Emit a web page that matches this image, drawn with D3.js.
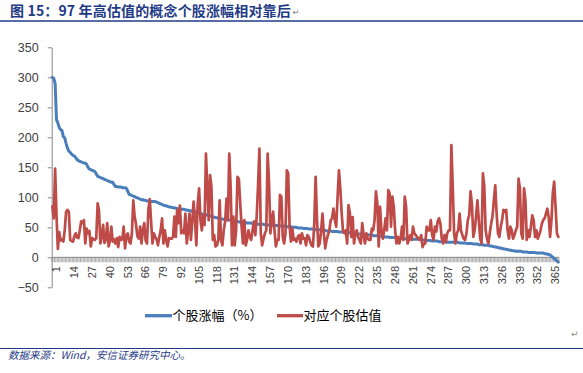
<!DOCTYPE html>
<html>
<head>
<meta charset="utf-8">
<script src="https://cdn.jsdelivr.net/npm/d3@7"></script>
<style>
  html, body { margin: 0; padding: 0; background: #fff; }
  svg { display: block; }
</style>
</head>
<body>
<svg id="chart" width="583" height="373"></svg>
<script>
// ---------------- data ----------------
const titleText = "图 15：97 年高估值的概念个股涨幅相对靠后";
const sourceText = "数据来源：Wind，安信证券研究中心。";
const seriesNames = ["个股涨幅（%）", "对应个股估值"];
const yTicks = [-50, 0, 50, 100, 150, 200, 250, 300, 350];
const xTickLabels = [1, 14, 27, 40, 53, 66, 79, 92, 105, 118, 131, 144, 157, 170, 183, 196, 209, 222, 235, 248, 261, 274, 287, 300, 313, 326, 339, 352, 365];

// 个股涨幅（%） — 370 stocks, sorted descending
const gain = [
  300,298,290,229,224,216,213,211,201,199,
  190,182,177,175,172,170,169,166,163,161,
  160,159,158,157,157,155,150,147,146,145,
  144,143,139,135,134,133,132,131,130,129,
  128,127,126,125,125,121,118,118,117,117,
  117,116,116,116,115,110,105,104,103,102,
  101,100,99,98,97,96,96,95,95,94,
  94,94,93,93,93,93,92,91,90,89,
  88,87,86,86,85,84,84,83,83,82,
  82,81,81,81,80,80,80,79,79,78,
  78,77,77,76,76,75,74,73,73,72,
  72,71,71,70,70,69,68,67,67,66,
  66,65,65,64,64,63,63,63,62,62,
  62,61,61,60,60,60,59,59,59,58,
  58,58,57,57,57,57,56,56,56,56,
  55,55,55,55,55,54,54,54,54,54,
  54,53,53,53,53,53,52,52,52,52,
  52,51,51,51,51,50,50,50,50,49,
  49,49,49,48,48,48,48,47,47,47,
  47,47,46,46,46,46,45,45,45,45,
  44,44,44,44,43,43,43,43,43,42,
  42,42,42,42,41,41,41,41,41,40,
  40,40,40,39,39,39,39,38,38,38,
  38,37,37,37,36,36,36,36,35,35,
  35,35,34,34,34,34,33,33,33,33,
  33,32,32,32,32,32,31,31,31,31,
  31,31,30,30,30,30,30,30,30,29,
  29,29,29,28,28,28,28,27,27,27,
  27,27,26,26,26,26,26,25,25,25,
  25,25,25,25,25,25,25,24,24,24,
  24,24,23,23,23,23,23,22,22,22,
  22,21,21,21,21,20,20,20,20,19,
  19,18,18,17,17,16,16,15,15,14,
  14,13,13,12,12,11,11,11,10,10,
  10,10,10,9,9,9,9,8,8,8,
  8,8,8,7,7,7,7,7,7,6,
  6,5,5,4,2,0,-2,-4,-6,-8
];

// 对应个股估值
const valuation = [
  85,65,148,70,14,42,28,30,26,45,
  76,79,76,29,27,26,35,40,33,32,
  45,60,57,62,23,48,40,44,18,32,
  30,29,32,90,78,23,34,54,24,30,
  57,18,28,51,26,30,23,32,17,34,
  29,30,51,15,36,40,26,23,40,95,
  68,55,35,31,51,23,45,57,28,23,
  79,97,60,23,40,34,30,20,34,45,
  65,23,45,29,18,32,31,31,34,68,
  34,79,57,86,40,45,40,73,23,45,
  73,29,60,93,62,20,90,115,62,45,
  70,54,173,118,62,137,118,29,37,18,
  20,29,95,29,20,45,60,98,62,173,
  118,20,68,20,45,134,131,90,51,23,
  62,20,29,45,34,29,45,60,37,68,
  120,181,40,20,31,40,45,173,125,40,
  62,76,45,18,29,29,104,101,34,23,
  40,145,140,51,26,48,29,31,26,34,
  37,23,40,31,32,20,37,34,26,20,
  18,55,134,62,18,23,45,73,40,15,
  29,37,45,62,65,81,62,51,100,145,
  115,73,43,40,45,23,87,73,34,67,
  23,40,45,34,29,23,57,37,23,40,
  31,29,29,48,45,62,110,90,18,84,
  45,31,45,65,45,112,106,51,101,84,
  45,23,34,23,31,51,29,101,84,23,
  29,37,29,51,40,37,34,31,29,37,
  17,23,23,51,45,45,62,37,29,51,
  43,60,65,56,31,23,37,26,40,45,
  45,187,118,40,23,40,45,73,45,37,
  31,29,40,62,70,110,88,34,45,68,
  95,62,31,23,140,118,45,31,23,40,
  56,68,95,120,73,40,34,51,62,79,
  76,79,45,31,51,45,31,37,45,51,
  131,115,40,31,115,95,29,45,34,51,
  70,62,34,45,31,37,45,56,62,65,
  73,81,67,34,62,108,126,84,40,34
];

const categories = gain.map((d, i) => i + 1);

// ---------------- drawing ----------------
const svg = d3.select("#chart");
const axisColor = "#868686";
const blue = "#4A7EBB";
const red = "#BE4B48";
const navy = "#1F3B86";

// title
const title = svg.append("text")
  .attr("x", 10).attr("y", 15.5)
  .attr("font-family", "'Noto Sans CJK SC', sans-serif")
  .attr("font-weight", "bold")
  .attr("font-size", 14)
  .attr("letter-spacing", 0.15)
  .attr("fill", navy)
  .text(titleText);
const tEnd = 10 + title.node().getComputedTextLength();
svg.append("text")
  .attr("x", Math.max(tEnd + 1.5, 292)).attr("y", 15)
  .attr("font-family", "'DejaVu Sans', sans-serif")
  .attr("font-size", 8.5).attr("fill", "#888")
  .text("↵");
svg.append("line")
  .attr("x1", 0).attr("x2", 583).attr("y1", 21).attr("y2", 21)
  .attr("stroke", navy).attr("stroke-width", 1.5);

// scales
const x = d3.scaleBand().domain(categories).range([51.7, 559]).padding(0);
const bw = x.bandwidth();
const cx = d => x(d) + bw / 2;
const y = d3.scaleLinear().domain([-50, 350]).range([287.3, 47.3]);

// y axis
const yAxis = d3.axisLeft(y).tickValues(yTicks).tickSize(4).tickPadding(9).tickSizeOuter(0);
const gy = svg.append("g").attr("transform", "translate(51.7,0)").call(yAxis);
gy.select(".domain").attr("stroke", axisColor);
gy.selectAll(".tick line").attr("stroke", axisColor);
gy.selectAll(".tick text")
  .attr("font-family", "'Liberation Sans', Arial, sans-serif")
  .attr("font-size", 12.5).attr("fill", "#404040");

// x axis: line at 0 with tick marks between every category
const y0 = y(0);
const gx = svg.append("g");
const boundaries = categories.map(c => x(c)).concat([x(categories[categories.length - 1]) + bw]);
gx.selectAll("line.tk").data(boundaries).join("line")
  .attr("class", "tk")
  .attr("x1", d => d).attr("x2", d => d)
  .attr("y1", y0).attr("y2", y0 + 5)
  .attr("stroke", "#999").attr("stroke-width", 0.8);
gx.append("line")
  .attr("x1", 51.7).attr("x2", 559).attr("y1", y0).attr("y2", y0)
  .attr("stroke", axisColor).attr("stroke-width", 1);
gx.selectAll("text").data(xTickLabels).join("text")
  .attr("transform", d => `translate(${cx(d) + 4},266) rotate(-90)`)
  .attr("text-anchor", "end")
  .attr("dy", "0.35em")
  .attr("font-family", "'Liberation Sans', Arial, sans-serif")
  .attr("font-size", 11).attr("fill", "#404040")
  .text(d => d);

// lines
const line = d3.line().x((d, i) => cx(categories[i])).y(d => y(d));
svg.append("path").datum(gain)
  .attr("d", line).attr("fill", "none")
  .attr("stroke", blue).attr("stroke-width", 3).attr("stroke-linejoin", "round").attr("stroke-linecap", "round");
svg.append("path").datum(valuation)
  .attr("d", line).attr("fill", "none")
  .attr("stroke", red).attr("stroke-width", 2.7).attr("stroke-linejoin", "round").attr("stroke-linecap", "round");

// legend
const legendItems = [
  { name: seriesNames[0], color: blue, x1: 145, x2: 172, tx: 172.5 },
  { name: seriesNames[1], color: red, x1: 277, x2: 303, tx: 303.5 }
];
const lg = svg.append("g");
legendItems.forEach(it => {
  lg.append("line").attr("x1", it.x1).attr("x2", it.x2).attr("y1", 315.7).attr("y2", 315.7)
    .attr("stroke", it.color).attr("stroke-width", 3.3);
  lg.append("text").attr("x", it.tx).attr("y", 315.7).attr("dy", "0.36em")
    .attr("font-family", "'Noto Sans CJK SC', sans-serif")
    .attr("font-size", 13).attr("fill", "#000")
    .text(it.name);
});

// footer
svg.append("text")
  .attr("x", 571).attr("y", 337)
  .attr("font-family", "'DejaVu Sans', sans-serif")
  .attr("font-size", 9).attr("fill", "#888")
  .text("↵");
svg.append("line")
  .attr("x1", 0).attr("x2", 583).attr("y1", 348.5).attr("y2", 348.5)
  .attr("stroke", navy).attr("stroke-width", 1.2);
svg.append("text")
  .attr("x", 8).attr("y", 359)
  .attr("font-family", "'Noto Sans CJK SC', sans-serif")
  .attr("font-style", "italic")
  .attr("font-size", 10.5).attr("fill", navy)
  .text(sourceText);
</script>
</body>
</html>
